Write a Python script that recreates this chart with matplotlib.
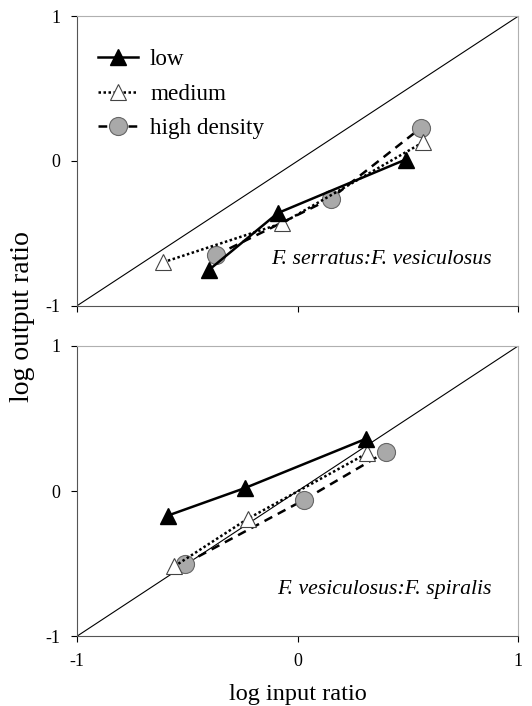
import numpy as np
import matplotlib.pyplot as plt

plt.rcParams['font.family'] = ['Liberation Serif', 'DejaVu Serif']

# top panel: F. serratus : F. vesiculosus
top_low_x = [-0.40, -0.09, 0.49]
top_low_y = [-0.75, -0.36, 0.01]
top_med_x = [-0.61, -0.07, 0.57]
top_med_y = [-0.70, -0.43, 0.13]
top_high_x = [-0.37, 0.15, 0.56]
top_high_y = [-0.65, -0.26, 0.23]

# bottom panel: F. vesiculosus : F. spiralis
bot_low_x = [-0.59, -0.24, 0.31]
bot_low_y = [-0.17, 0.02, 0.36]
bot_med_x = [-0.56, -0.225, 0.315]
bot_med_y = [-0.52, -0.19, 0.26]
bot_high_x = [-0.51, 0.03, 0.40]
bot_high_y = [-0.50, -0.06, 0.27]

labels = ["low", "medium", "high density"]

fig = plt.figure(figsize=(5.32, 7.06), dpi=100)
ax1 = fig.add_axes([0.145, 0.567, 0.829, 0.410])
ax2 = fig.add_axes([0.145, 0.099, 0.829, 0.411])


def draw_panel(ax, lx, ly, mx, my, hx, hy, title):
    ax.plot([-1, 1], [-1, 1], color='black', lw=0.8, zorder=1)
    ax.plot(hx, hy, color='black', ls=(0, (3.5, 2.5)), lw=1.8, marker='o', ms=13,
            mfc='#a9a9a9', mec='#666666', mew=0.8, label=labels[2], zorder=2)
    ax.plot(mx, my, color='black', ls=(0, (1, 1)), lw=1.8, marker='^', ms=12,
            mfc='white', mec='#444444', mew=0.8, label=labels[1], zorder=3)
    ax.plot(lx, ly, color='black', ls='-', lw=1.8, marker='^', ms=12,
            mfc='black', mec='black', label=labels[0], zorder=4)
    ax.set_xlim(-1, 1)
    ax.set_ylim(-1, 1)
    ax.set_xticks([-1, 0, 1])
    ax.set_yticks([-1, 0, 1])
    ax.tick_params(labelsize=13, length=4, width=0.8, direction='out')
    ax.tick_params(axis='y', pad=8)
    ax.tick_params(axis='x', pad=8)
    for s in ['top', 'right']:
        ax.spines[s].set_color('#b0b0b0')
        ax.spines[s].set_linewidth(0.8)
    for s in ['left', 'bottom']:
        ax.spines[s].set_color('#555555')
        ax.spines[s].set_linewidth(0.8)
    ax.text(0.94, 0.16, title, transform=ax.transAxes,
            ha='right', va='center', fontsize=15.7, style='italic')


draw_panel(ax1, top_low_x, top_low_y, top_med_x, top_med_y, top_high_x, top_high_y,
           "F. serratus:F. vesiculosus")
draw_panel(ax2, bot_low_x, bot_low_y, bot_med_x, bot_med_y, bot_high_x, bot_high_y,
           "F. vesiculosus:F. spiralis")

ax1.set_xticklabels([])
ax2.set_xticklabels(['-1', '0', '1'])
ax1.set_yticklabels(['-1', '0', '1'])
ax2.set_yticklabels(['-1', '0', '1'])

h, l = ax1.get_legend_handles_labels()
ax1.legend(h[::-1], l[::-1], loc='upper left', bbox_to_anchor=(0.047, 0.886),
           frameon=False, fontsize=16.7, handlelength=1.75, handletextpad=0.5,
           labelspacing=0.56, borderaxespad=0, borderpad=0)

ax2.set_xlabel("log input ratio", fontsize=17.5, labelpad=10)
fig.text(0.043, 0.552, "log output ratio", rotation=90, ha='center', va='center',
         fontsize=20)

fig.savefig('out.png', dpi=100)
